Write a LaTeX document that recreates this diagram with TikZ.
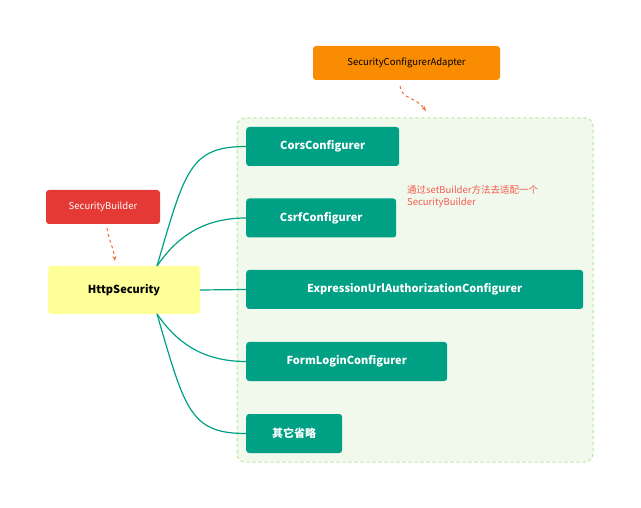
\documentclass[tikz,border=0pt]{standalone}
\usepackage{fontspec}
\setmainfont{Noto Sans CJK SC}
\usetikzlibrary{arrows.meta}
\definecolor{teal1}{HTML}{00A085}
\definecolor{orng}{HTML}{F98C00}
\definecolor{redb}{HTML}{E53935}
\definecolor{redt}{HTML}{F4594E}
\definecolor{yel}{HTML}{FFFF99}
\definecolor{lgreen}{HTML}{F1F9EC}
\definecolor{dgreen}{HTML}{B5E3A0}
\definecolor{arr}{HTML}{F26B3A}
\begin{document}
\begin{tikzpicture}[x=1pt,y=-1pt,
  conf/.style={draw=none,fill=teal1,rounded corners=3pt,text=white,font=\bfseries\fontsize{11}{13}\selectfont,anchor=west,inner xsep=10pt,minimum height=39pt},
  link/.style={draw=teal1,line width=1.2pt},
  darr/.style={draw=arr,dashed,line width=1pt,-{Stealth[length=5pt]}}]
\useasboundingbox (0,0) rectangle (641,508);
\fill[lgreen,draw=dgreen,dashed,line width=1pt,rounded corners=8pt] (237,118) rectangle (593,462);
\node[fill=orng,rounded corners=3pt,minimum width=187pt,minimum height=34pt,font=\fontsize{9.5}{11}\selectfont] (sca) at (406.5,63) {SecurityConfigurerAdapter};
\node[fill=redb,rounded corners=3pt,text=white,minimum width=114pt,minimum height=34pt,font=\fontsize{9.5}{11}\selectfont] (sb) at (103,207) {SecurityBuilder};
\node[fill=yel,rounded corners=3pt,minimum width=152pt,minimum height=48pt,font=\bfseries\fontsize{11}{13}\selectfont] (hs) at (124,290) {HttpSecurity};
\node[conf,minimum width=153pt] (c1) at (246,146.5) {CorsConfigurer};
\node[conf,minimum width=150pt] (c2) at (246,218) {CsrfConfigurer};
\node[conf,minimum width=337pt] (c3) at (246,289.5) {ExpressionUrlAuthorizationConfigurer};
\node[conf,minimum width=201pt] (c4) at (246,361.5) {FormLoginConfigurer};
\node[conf,minimum width=96pt] (c5) at (246,433.5) {其它省略};
\node[text=redt,align=left,anchor=north west,inner sep=0pt,font=\fontsize{9.5}{12}\selectfont] (note) at (407,185) {通过setBuilder方法去适配一个\\SecurityBuilder};
\coordinate (top) at (157,266);
\coordinate (bot) at (157,314);
\draw[link] (top) .. controls (185,170) and (190,146.5) .. (c1.west);
\draw[link] (top) .. controls (175,240) and (200,218) .. (c2.west);
\draw[link] (hs.east) -- (c3.west);
\draw[link] (bot) .. controls (175,340) and (200,361.5) .. (c4.west);
\draw[link] (bot) .. controls (185,410) and (190,433.5) .. (c5.west);
\coordinate (a1) at (400,86);
\coordinate (a2) at (426,111);
\draw[darr] (a1) .. controls (402,100) and (415,96) .. (a2);
\coordinate (b1) at (107,228);
\coordinate (b2) at (115,261);
\draw[darr] (b1) .. controls (109,242) and (113,245) .. (b2);
\end{tikzpicture}
\end{document}
